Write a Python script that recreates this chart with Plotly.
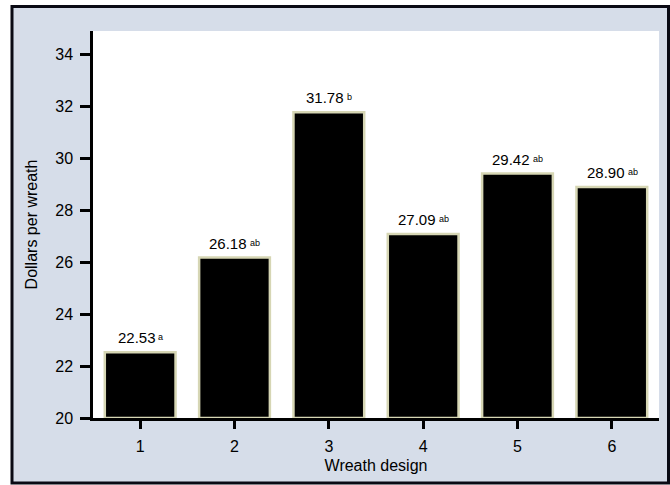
import plotly.graph_objects as go

# Average price per wreath for each wreath design, with significance letters
designs = [1, 2, 3, 4, 5, 6]
dollars = [22.53, 26.18, 31.78, 27.09, 29.42, 28.90]
letters = ["a", "ab", "b", "ab", "ab", "ab"]
y_ticks = [20, 22, 24, 26, 28, 30, 32, 34]

W, H = 670, 485
L, R, T, B = 93, 11, 31, 67
pw, ph = W - L - R, H - T - B

def px_x(p):
    return (p - L) / pw

def px_y(p):
    return (H - B - p) / ph

FONT = "Liberation Sans, Arial, sans-serif"
NUM_SIZE, LET_SIZE, GAP = 15, 9, 2
DIGIT_EM = 0.556  # advance of digits and a/b in Liberation Sans
DOT_EM = 0.278

fig = go.Figure()
fig.add_trace(go.Bar(
    x=designs,
    y=[v - 20 for v in dollars],
    base=20,
    width=0.75,
    marker=dict(color="#000000", line=dict(color="#d6d6b4", width=2.5)),
    hoverinfo="skip",
))

# value label plus small significance letters, centred as a group over each bar
for d, v, s in zip(designs, dollars, letters):
    label = f"{v:.2f}"
    num_w = NUM_SIZE * (DIGIT_EM * (len(label) - 1) + DOT_EM)
    let_w = LET_SIZE * DIGIT_EM * len(s)
    num_shift = -(GAP + let_w) / 2
    fig.add_annotation(
        x=d, y=v, xref="x", yref="y", text=label,
        showarrow=False, xanchor="center", yanchor="bottom",
        xshift=num_shift, yshift=4,
        font=dict(family=FONT, size=NUM_SIZE, color="#000000"),
    )
    fig.add_annotation(
        x=d, y=v, xref="x", yref="y", text=s,
        showarrow=False, xanchor="left", yanchor="bottom",
        xshift=num_shift + num_w / 2 + GAP - 1, yshift=8,
        font=dict(family=FONT, size=LET_SIZE, color="#000000"),
    )

# outer panel and white plotting area
fig.add_shape(type="rect", xref="paper", yref="paper",
              x0=px_x(12), x1=px_x(668.5), y0=px_y(483), y1=px_y(6.5),
              fillcolor="#d6dde9", line=dict(color="#0a0a14", width=3),
              layer="below")
fig.add_shape(type="rect", xref="paper", yref="paper",
              x0=0, x1=1, y0=0, y1=1,
              fillcolor="#ffffff", line=dict(width=0), layer="below")

fig.update_layout(
    width=W, height=H,
    margin=dict(l=L, r=R, t=T, b=B),
    paper_bgcolor="#ffffff",
    plot_bgcolor="rgba(0,0,0,0)",
    showlegend=False,
    font=dict(family=FONT, size=16, color="#000000"),
    xaxis=dict(
        range=[0.5, 6.5], tickvals=designs, ticktext=[str(d) for d in designs],
        showgrid=False, zeroline=False,
        showline=True, linecolor="#000000", linewidth=2.5,
        ticks="outside", ticklen=8, tickwidth=2.5, tickcolor="#000000",
        tickfont=dict(family=FONT, size=16),
        ticklabelstandoff=4,
        title=dict(text="Wreath design", font=dict(family=FONT, size=16), standoff=6),
    ),
    yaxis=dict(
        range=[20, 34.91], tickvals=y_ticks, ticktext=[str(t) for t in y_ticks],
        showgrid=False, zeroline=False,
        showline=True, linecolor="#000000", linewidth=2.5,
        ticks="outside", ticklen=10, tickwidth=2.5, tickcolor="#000000",
        tickfont=dict(family=FONT, size=16),
        ticklabelstandoff=4,
        title=dict(text="Dollars per wreath", font=dict(family=FONT, size=16), standoff=14),
    ),
)

fig.write_html("out.html")
